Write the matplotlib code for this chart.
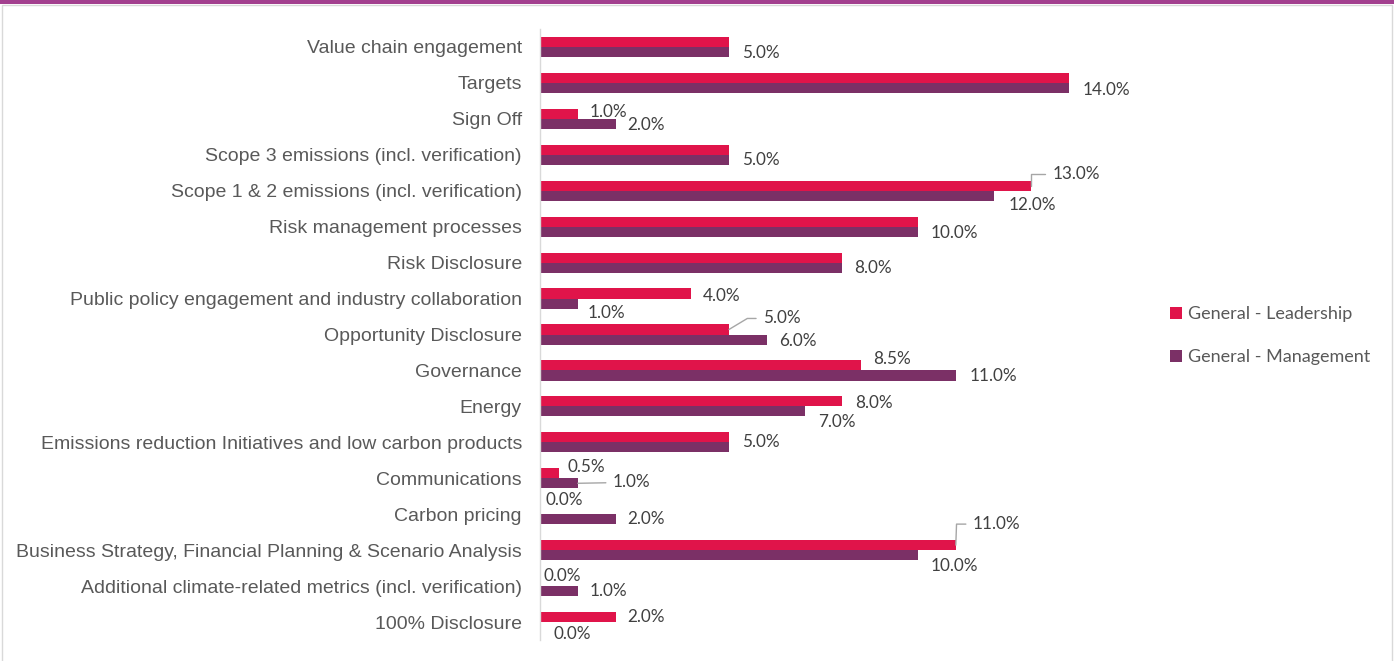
import matplotlib.pyplot as plt
from matplotlib.patches import Rectangle

# data
categories = [
    'Value chain engagement',
    'Targets',
    'Sign Off',
    'Scope 3 emissions (incl. verification)',
    'Scope 1 & 2 emissions (incl. verification)',
    'Risk management processes',
    'Risk Disclosure',
    'Public policy engagement and industry collaboration',
    'Opportunity Disclosure',
    'Governance',
    'Energy',
    'Emissions reduction Initiatives and low carbon products',
    'Communications',
    'Carbon pricing',
    'Business Strategy, Financial Planning & Scenario Analysis',
    'Additional climate-related metrics (incl. verification)',
    '100% Disclosure',
]
leadership = [5.0, 14.0, 1.0, 5.0, 13.0, 10.0, 8.0, 4.0, 5.0, 8.5, 8.0, 5.0, 0.5, 0.0, 11.0, 0.0, 2.0]
management = [5.0, 14.0, 2.0, 5.0, 12.0, 10.0, 8.0, 1.0, 6.0, 11.0, 7.0, 5.0, 1.0, 2.0, 10.0, 1.0, 0.0]
series_names = ['General - Leadership', 'General - Management']

# label placement (pixels right / down from bar end), as moved by hand in the original
lead_off = [(13, 11), (13, 12), (12, -2), (13, 10), (21, -12), (13, 11), (12, 10), (12, 2),
            (34, -11), (12, -6), (13, 2), (13, 5), (9, -6), (5, -9), (17, -21), (3, -5), (12, 0)]
mgmt_off = [(13, 1), (13, 2), (12, 1), (13, 0), (15, 9), (13, 1), (12, 0), (10, 9),
            (12, 1), (14, 1), (14, 11), (13, -5), (35, -1), (12, 0), (13, 11), (12, 0), (13, 7)]
# leader lines: index -> angle of the segment at the bar end (None = straight line)
lead_leaders = {4: 90, 8: 31, 14: 88}
mgmt_leaders = {12: None}

c_lead = '#E0144A'
c_mgmt = '#7B3066'
txt_dark = '#404040'
txt_cat = '#595959'

W, H = 1394, 661
fig = plt.figure(figsize=(W / 100, H / 100), dpi=100)

# frame and top band
fig.patches.append(Rectangle((1.5 / W, -0.01), (W - 3.5) / W, 1.01 - 4.5 / H, transform=fig.transFigure,
                             fill=False, edgecolor='#D9D9D9', linewidth=1))
fig.patches.append(Rectangle((0, 1 - 3.5 / H), 1, 3.5 / H, transform=fig.transFigure,
                             facecolor='#A3408F', edgecolor='none'))

ax = fig.add_axes([540 / W, 1 - 640 / H, 604.8 / W, 611 / H])

n = len(categories)
pos = list(range(n))
bh = 0.28
ax.barh([p - bh / 2 for p in pos], leadership, height=bh, color=c_lead, label=series_names[0])
ax.barh([p + bh / 2 for p in pos], management, height=bh, color=c_mgmt, label=series_names[1])

ax.set_xlim(0, 16)
ax.set_ylim(n - 0.5, -0.5)
ax.set_xticks([])
ax.set_yticks(pos)
ax.set_yticklabels(categories, fontsize=14.0, color=txt_cat, family='Liberation Sans')
ax.tick_params(axis='y', length=0, pad=13)
for s in ['top', 'right', 'bottom']:
    ax.spines[s].set_visible(False)
ax.spines['left'].set_color('#D9D9D9')
ax.spines['left'].set_linewidth(1)


def put_label(v, y, off, leader):
    props = None
    if leader is not False:
        if leader is None:
            cs = 'arc3'
        else:
            cs = 'angle,angleA=0,angleB=%d,rad=0' % leader
        props = dict(arrowstyle='-', color='#A6A6A6', lw=1, shrinkA=3, shrinkB=0,
                     connectionstyle=cs)
    ax.annotate('%.1f%%' % v, xy=(v, y), xytext=(off[0], -off[1]), textcoords='offset pixels',
                ha='left', va='center', fontsize=12.3, color=txt_dark, family='Lato',
                arrowprops=props, annotation_clip=False)


for i in range(n):
    # equal values sit on top of each other in the original, draw them once
    if leadership[i] != management[i]:
        put_label(leadership[i], i - bh / 2, lead_off[i], lead_leaders.get(i, False))
    put_label(management[i], i + bh / 2, mgmt_off[i], mgmt_leaders.get(i, False))

leg = ax.legend(loc='upper left', bbox_to_anchor=(1170 / W, 1 - 306 / H), bbox_transform=fig.transFigure,
                frameon=False, borderpad=0, borderaxespad=0, handlelength=0.65, handleheight=0.65,
                handletextpad=0.33, labelspacing=1.5, prop={'family': 'Lato', 'size': 13})
for t in leg.get_texts():
    t.set_color(txt_cat)

fig.savefig('out.png', dpi=100)
